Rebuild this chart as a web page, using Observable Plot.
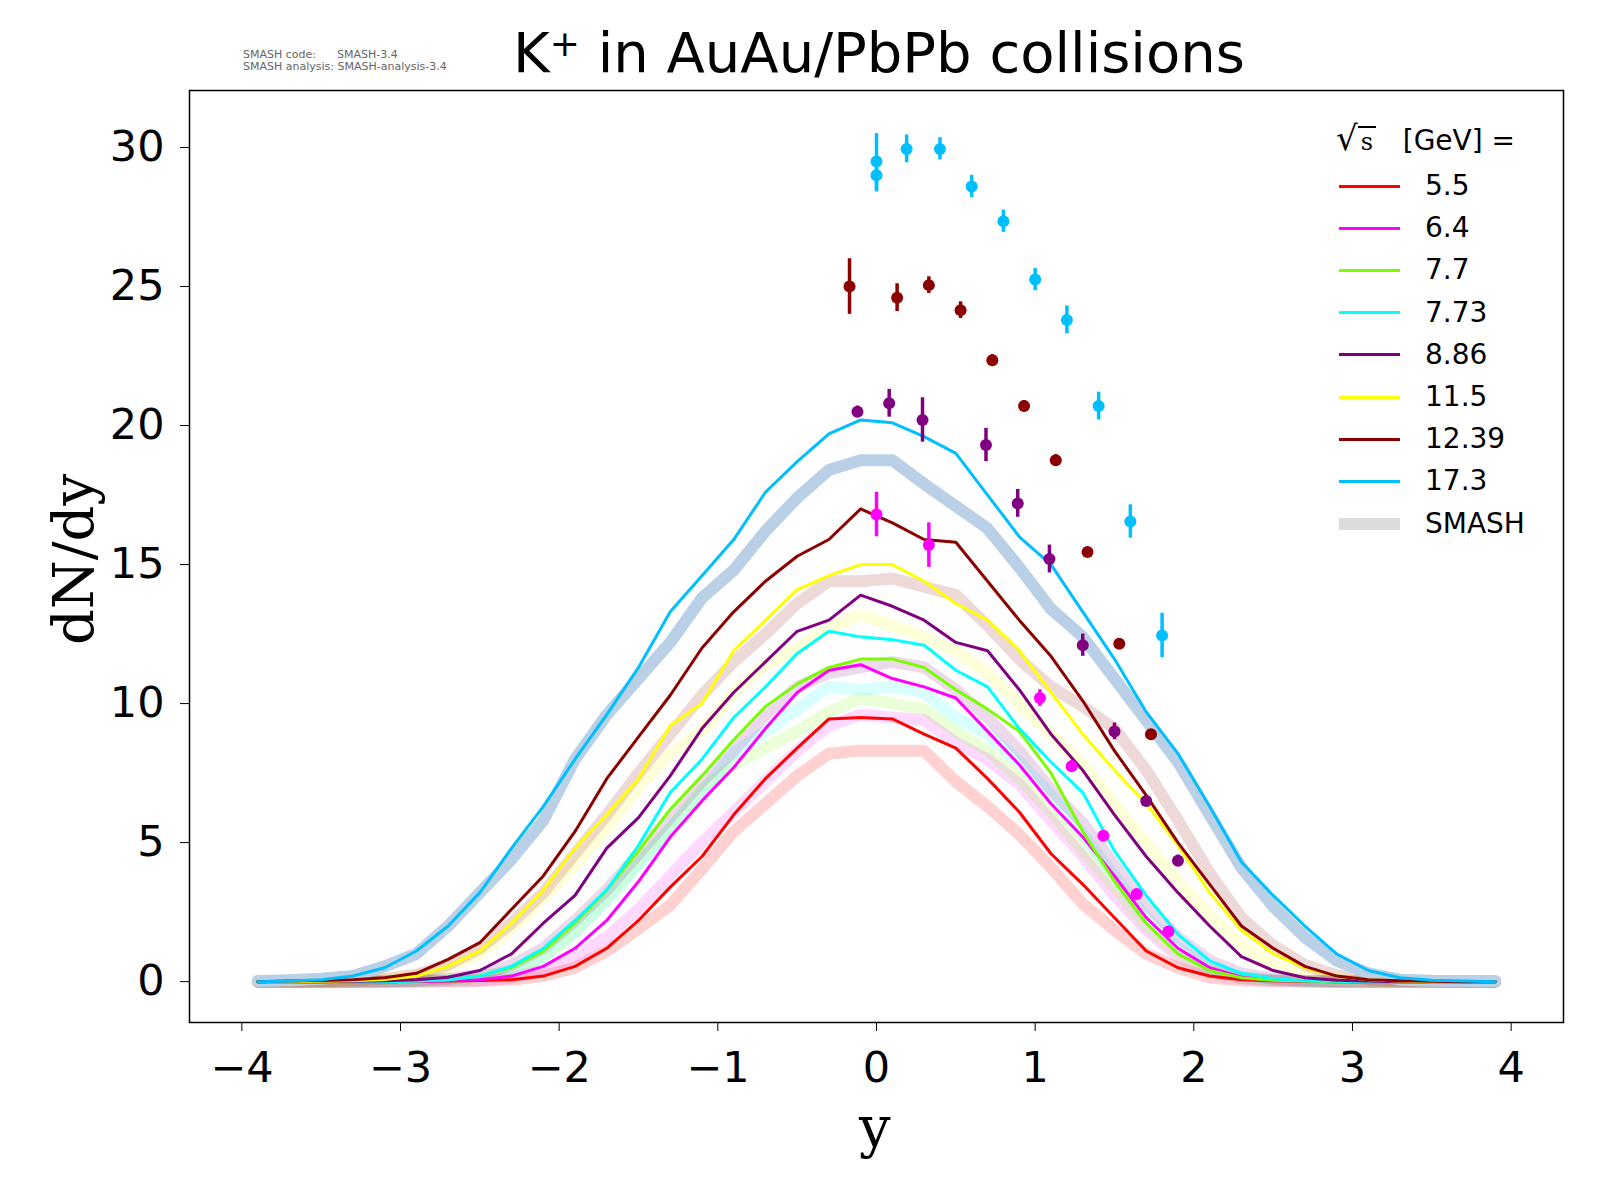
<!DOCTYPE html>
<html><head><meta charset="utf-8">
<script src="https://cdn.jsdelivr.net/npm/d3@7"></script>
<script src="https://cdn.jsdelivr.net/npm/@observablehq/plot@0.6"></script>
<style>
body{margin:0;background:#fff;font-family:"DejaVu Sans",sans-serif;}
#wrap{position:relative;width:1600px;height:1200px;}
.abs{position:absolute;white-space:nowrap;}
</style></head><body><div id="wrap"></div>
<script>
const energies = ["5.5","6.4","7.7","7.73","8.86","11.5","12.39","17.3"];
const colors = ["#ff0000","#ff00ff","#7cfc00","#00ffff","#800080","#ffff00","#8b0000","#00bfff"];
const bandColors = ["#ff0000","#ff00ff","#7cfc00","#00ffff","#800080","#ffff00","#8b0000","#b9d0e6"];
const bandOpacity = [0.18,0.15,0.15,0.15,0.15,0.15,0.15,1];
const ys = d3.range(40).map(i => +(-3.9 + 0.2*i).toFixed(1));

const simLine = {
 "5.5":[0,0,0,0,0,0.01,0.02,0.04,0.07,0.2,0.55,1.2,2.2,3.4,4.5,6.0,7.3,8.4,9.45,9.5, 9.45,8.9,8.4,7.3,6.1,4.6,3.5,2.3,1.1,0.5,0.2,0.07,0.03,0.01,0,0,0,0,0,0],
 "6.4":[0,0,0,0,0,0.01,0.03,0.07,0.2,0.55,1.2,2.2,3.6,5.2,6.5,7.7,9.1,10.4,11.2,11.4, 10.9,10.6,10.2,9.0,7.8,6.4,5.2,3.8,2.3,1.2,0.5,0.16,0.06,0.02,0,0,0,0,0,0],
 "7.7":[0,0,0,0,0,0.02,0.07,0.2,0.5,1.1,2.1,3.3,4.7,6.2,7.4,8.7,9.9,10.7,11.3,11.6, 11.6,11.3,10.5,9.8,9.0,7.5,5.4,3.6,2.1,1.0,0.4,0.14,0.05,0.02,0,0,0,0,0,0],
 "7.73":[0,0,0,0,0,0.02,0.07,0.2,0.55,1.2,2.2,3.3,4.9,6.8,8.0,9.5,10.6,11.8,12.6,12.4, 12.3,12.1,11.2,10.6,9.1,7.9,6.8,4.7,3.1,1.7,0.75,0.3,0.1,0.03,0.01,0,0,0,0,0],
 "8.86":[0,0,0,0.01,0.03,0.07,0.16,0.4,1.0,2.1,3.1,4.8,5.9,7.4,9.1,10.4,11.5,12.6,13.0,13.9, 13.5,13.0,12.2,11.9,10.5,8.9,7.6,6.0,4.5,3.2,2.0,0.9,0.4,0.14,0.05,0.02,0,0,0,0],
 "11.5":[0,0,0.01,0.03,0.08,0.2,0.55,1.1,2.1,3.3,4.8,6.0,7.3,9.2,10.0,11.9,13.0,14.1,14.6,15.0, 15.0,14.4,13.6,13.0,11.9,10.4,8.9,7.6,6.4,4.9,3.2,1.85,1.0,0.5,0.2,0.07,0.02,0,0,0],
 "12.39":[0,0.02,0.04,0.07,0.14,0.3,0.8,1.4,2.6,3.8,5.4,7.3,8.8,10.3,12.0,13.3,14.4,15.3,15.9,17.0, 16.5,15.9,15.8,14.4,13.0,11.7,10.1,8.3,6.7,5.0,3.5,2.0,1.2,0.55,0.2,0.07,0.03,0.01,0,0],
 "17.3":[0,0.02,0.07,0.2,0.5,1.1,2.0,3.2,4.8,6.3,8.0,9.6,11.3,13.3,14.6,15.9,17.6,18.7,19.7,20.2, 20.1,19.6,19.0,17.5,16.0,15.0,13.3,11.6,9.7,8.2,6.3,4.3,3.1,2.0,1.0,0.4,0.14,0.05,0.02,0]
};
const simBand = {
 "5.5":[0,0,0,0,0,0,0.01,0.03,0.07,0.2,0.5,1.1,1.9,2.75,4.05,5.4,6.4,7.4,8.2,8.3, 8.3,8.3,7.2,6.3,5.3,4.1,2.8,1.85,1.0,0.5,0.15,0.05,0.02,0,0,0,0,0,0,0],
 "6.4":[0,0,0,0,0,0.01,0.02,0.05,0.15,0.4,0.9,1.6,2.6,3.8,5.0,6.1,7.2,8.3,9.2,9.6, 9.5,9.4,8.6,8.0,7.1,5.8,4.5,3.1,1.85,0.9,0.35,0.12,0.04,0.01,0,0,0,0,0,0],
 "7.7":[0,0,0,0,0,0.02,0.06,0.15,0.4,0.9,1.8,3.0,4.3,5.5,6.9,7.8,8.4,9.0,9.7,10.2, 10.0,9.8,9.0,8.3,7.3,6.1,4.7,3.4,2.0,1.0,0.4,0.14,0.05,0.02,0,0,0,0,0,0],
 "7.73":[0,0,0,0,0,0.02,0.06,0.15,0.4,0.9,1.8,2.9,4.2,5.5,6.8,8.2,9.0,9.8,10.6,10.5, 10.6,10.4,9.5,8.9,7.9,6.7,5.3,3.8,2.3,1.2,0.5,0.18,0.06,0.02,0,0,0,0,0,0],
 "8.86":[0,0,0,0,0.01,0.04,0.1,0.25,0.6,1.2,2.2,3.3,4.6,5.9,7.2,8.3,9.6,10.6,11.1,11.3, 11.5,11.3,10.5,9.5,8.3,6.9,5.7,4.2,2.8,1.6,0.75,0.3,0.1,0.04,0.01,0,0,0,0,0],
 "11.5":[0,0,0.01,0.03,0.08,0.2,0.5,1.0,1.9,3.0,4.2,5.5,7.0,8.2,9.0,10.4,11.4,12.0,12.7,13.2, 12.8,12.4,11.9,11.1,10.0,8.9,7.8,6.4,5.0,3.6,2.4,1.3,0.6,0.23,0.08,0.03,0.01,0,0,0],
 "12.39":[0,0,0.01,0.04,0.1,0.25,0.6,1.2,2.1,3.2,4.6,6.0,7.5,8.9,10.3,11.5,12.5,13.6,14.4,14.4, 14.5,14.2,13.9,12.8,11.6,10.6,9.9,9.1,7.6,5.8,3.9,2.3,1.3,0.6,0.23,0.08,0.03,0.01,0,0],
 "17.3":[0.02,0.05,0.1,0.2,0.55,1.0,2.0,3.2,4.4,5.8,8.0,9.6,10.9,12.2,13.8,14.8,16.2,17.4,18.4,18.75, 18.75,17.9,17.1,16.3,14.9,13.4,12.4,10.9,9.4,7.9,6.0,4.1,2.7,1.6,0.75,0.3,0.07,0.03,0.02,0.02]
};
// experimental data: [y, dN/dy, error]
const exp64 = [[0.0,16.8,0.8],[0.33,15.7,0.8],[1.03,10.2,0.3],[1.23,7.75,0.2],[1.43,5.25,0.15],[1.64,3.15,0.1],[1.84,1.8,0.1]];
const exp886 = [[-0.12,20.5,0.2],[0.08,20.8,0.5],[0.29,20.2,0.8],[0.69,19.3,0.6],[0.89,17.2,0.5],[1.09,15.2,0.5],[1.3,12.1,0.4],[1.5,9.0,0.3],[1.7,6.5,0.2],[1.9,4.35,0.2]];
const exp1239 = [[-0.17,25.0,1.0],[0.13,24.6,0.5],[0.33,25.05,0.3],[0.53,24.15,0.3],[0.73,22.35,0.2],[0.93,20.7,0.2],[1.13,18.75,0.2],[1.33,15.45,0.15],[1.53,12.15,0.15],[1.73,8.9,0.15]];
const exp173 = [[0.0,29.0,0.6],[0.0,29.5,1.0],[0.19,29.95,0.5],[0.4,29.95,0.4],[0.6,28.6,0.4],[0.8,27.35,0.4],[1.0,25.25,0.4],[1.2,23.8,0.5],[1.4,20.7,0.5],[1.6,16.55,0.6],[1.8,12.45,0.8]];
const expSets = [["6.4",exp64],["8.86",exp886],["12.39",exp1239],["17.3",exp173]];
const xTicks = [-4,-3,-2,-1,0,1,2,3,4];
const yTicks = [0,5,10,15,20,25,30];

const colorOf = Object.fromEntries(energies.map((e,i)=>[e,colors[i]]));
const bands=[], lines=[];
energies.forEach((e,i)=>{
  ys.forEach((y,j)=>{
    bands.push({e,i,y,v:simBand[e][j]});
    lines.push({e,i,y,v:simLine[e][j]});
  });
});
const pts=[];
expSets.forEach(([e,arr])=>arr.forEach(([y,v,err])=>pts.push({e,y,v,lo:v-err,hi:v+err})));

const marks=[];
energies.forEach((e,i)=>{
  marks.push(Plot.line(bands.filter(d=>d.e===e),{x:"y",y:"v",stroke:bandColors[i],strokeOpacity:bandOpacity[i],strokeWidth:12,strokeLinejoin:"round"}));
});
energies.forEach((e,i)=>{
  marks.push(Plot.line(lines.filter(d=>d.e===e),{x:"y",y:"v",stroke:colors[i],strokeWidth:3}));
});
marks.push(Plot.ruleX(pts,{x:"y",y1:"lo",y2:"hi",stroke:d=>colorOf[d.e],strokeWidth:3.5}));
marks.push(Plot.dot(pts,{x:"y",y:"v",fill:d=>colorOf[d.e],r:6}));
marks.push(Plot.axisX({ticks:xTicks,tickFormat:d=>d<0?"\u2212"+Math.abs(d):String(d),fontSize:43,tickSize:9,tickPadding:20,label:null}));
marks.push(Plot.axisY({ticks:yTicks,fontSize:43,tickSize:9,tickPadding:16,label:null}));
marks.push(Plot.frame({stroke:"black",strokeWidth:1.5}));

const chart = Plot.plot({
  width:1600,height:1200,
  marginLeft:189,marginRight:37,marginTop:90,marginBottom:178,
  x:{domain:[-4.33,4.33]},
  y:{domain:[-1.47,32.05]},
  style:{fontFamily:"DejaVu Sans",color:"black",background:"white",overflow:"visible"},
  marks
});
const wrap=document.getElementById("wrap");
chart.style.position="absolute";chart.style.left="0";chart.style.top="0";
wrap.appendChild(chart);

function add(html,css){const d=document.createElement("div");d.className="abs";d.innerHTML=html;Object.assign(d.style,css);wrap.appendChild(d);}
add("K<sup style='font-size:36px;vertical-align:16px'>+</sup> in AuAu/PbPb collisions",{left:"513px",top:"20px",fontSize:"56px"});
add("SMASH code:&nbsp;&nbsp;&nbsp;&nbsp;&nbsp;&nbsp;SMASH-3.4<br>SMASH analysis: SMASH-analysis-3.4",{left:"243px",top:"49px",fontSize:"11px",color:"#666",lineHeight:"12px"});
add("dN/dy",{left:"-12px",top:"527px",fontSize:"56px",fontFamily:"DejaVu Serif",transform:"rotate(-90deg)",transformOrigin:"center"});
add("y",{left:"859px",top:"1095px",fontSize:"56px",fontFamily:"DejaVu Serif"});
add("<span style='font-family:DejaVu Serif;font-size:34px'>√</span><span style='font-family:DejaVu Serif;font-size:24px;border-top:2px solid black;padding:0 3px'>s</span>&nbsp;&nbsp; [GeV] =",{left:"1336px",top:"118px",fontSize:"28px"});
const legItems = energies.map((e,i)=>[e,colors[i],3]).concat([["SMASH","#dcdcdc",12]]);
legItems.forEach(([lab,c,w],k)=>{
  const yc = 186 + k*42.2;
  add("",{left:"1339px",top:(yc-w/2)+"px",width:"61px",height:w+"px",background:c});
  add(lab,{left:"1425px",top:(yc-17)+"px",fontSize:"28px"});
});
</script></body></html>
